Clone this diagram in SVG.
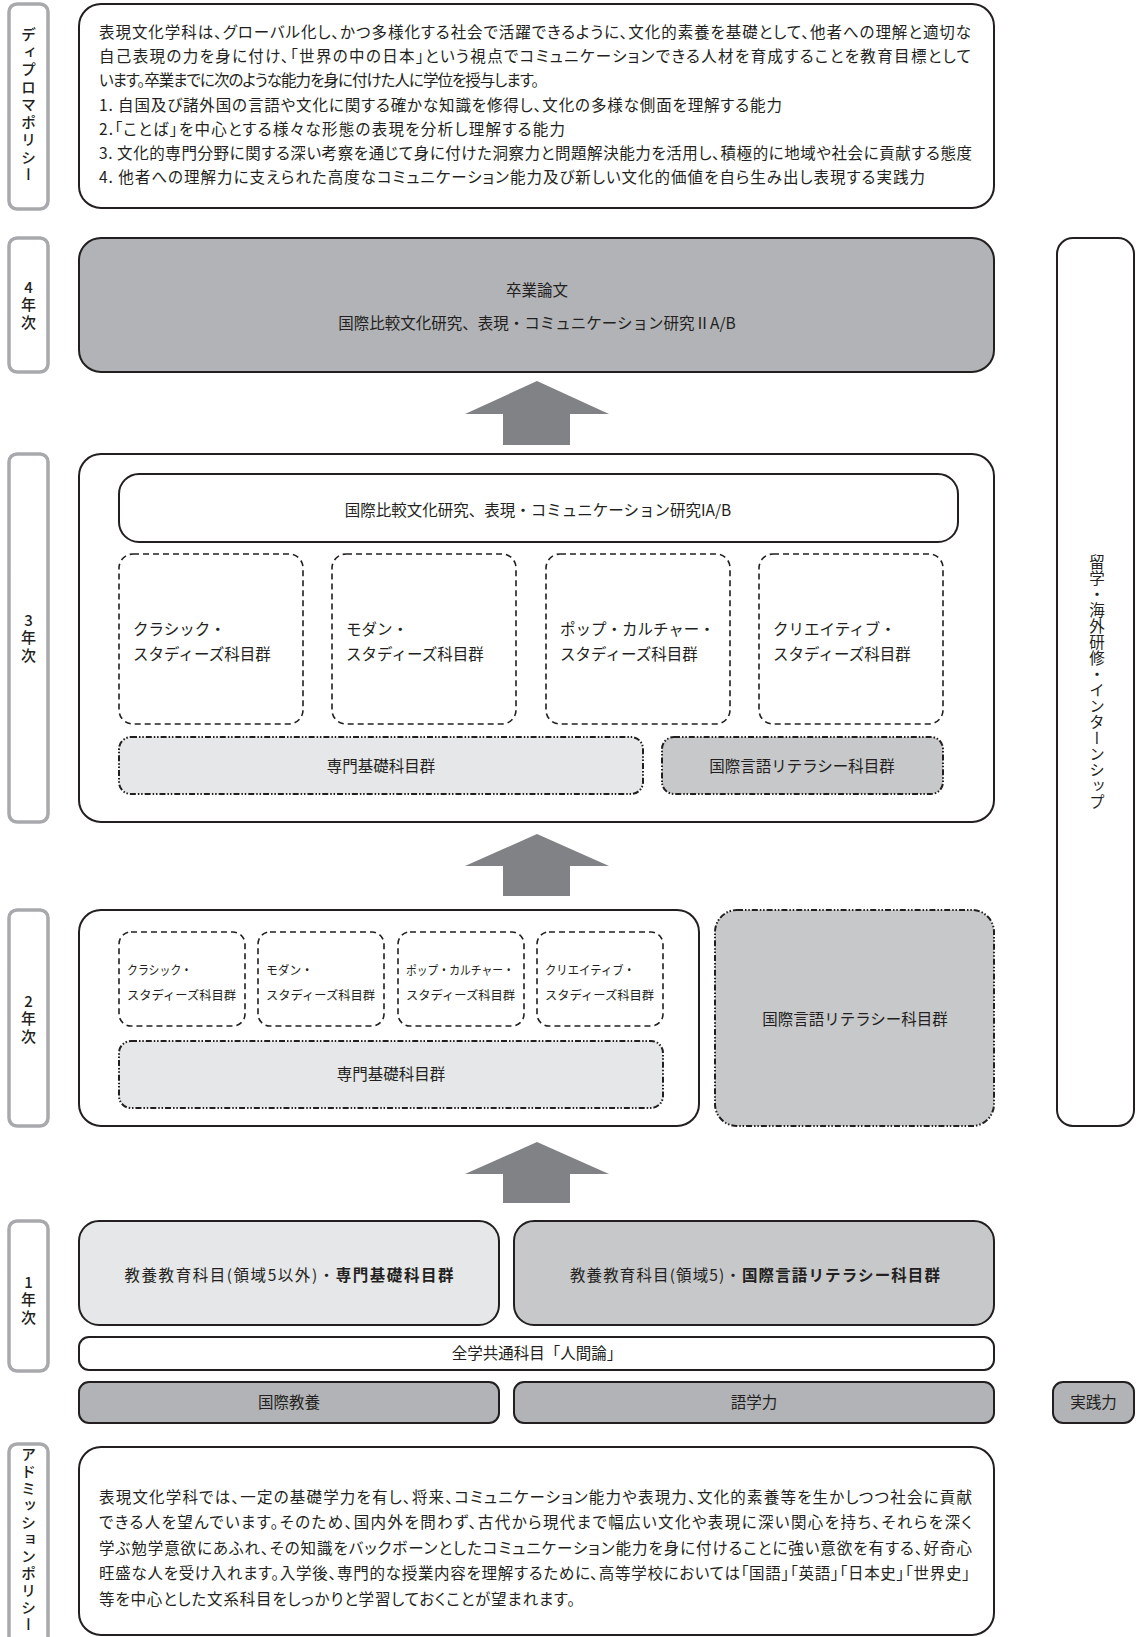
<svg xmlns="http://www.w3.org/2000/svg" width="1136" height="1637" viewBox="0 0 1136 1637">
<style>
text { font-family: "Noto Sans CJK JP", "Noto Sans", sans-serif; fill: #231f20; font-size: 15.5px; }
.p { font-feature-settings: "palt"; }
.c { text-anchor: middle; }
.b { font-weight: 700; }
.small { font-size: 12.5px; }
.lbl { fill: #fff; stroke: #a7a9ac; stroke-width: 3.5; }
.lt { font-size: 15px; font-weight: 500; text-anchor: middle; }
.vt { writing-mode: vertical-rl; text-anchor: middle; }
.up { text-orientation: upright; letter-spacing: 2.5px; }
.box { stroke: #231f20; stroke-width: 2; }
.white { fill: #fff; }
.g1 { fill: #e6e7e8; }
.g2 { fill: #c7c8ca; }
.g3 { fill: #b1b3b6; }
.dash { fill: #fff; stroke: #231f20; stroke-width: 1.6; stroke-dasharray: 6 4; }
.dd { stroke: #231f20; stroke-width: 2; stroke-dasharray: 6 2 1.5 1.8 1.5 2; }
.arrow { fill: #808285; }
</style>

<!-- side labels -->
<g id="label-diploma">
  <rect class="lbl" x="9" y="4" width="39" height="205" rx="8"/>
  <text class="lt vt" x="28.5" y="106" style="letter-spacing:2.5px">ディプロマポリシー</text>
</g>
<g id="label-y4">
  <rect class="lbl" x="9" y="238" width="39" height="134" rx="8"/>
  <text class="lt vt up" x="28.5" y="306">4年次</text>
</g>
<g id="label-y3">
  <rect class="lbl" x="9" y="454" width="39" height="368" rx="8"/>
  <text class="lt vt up" x="28.5" y="639">3年次</text>
</g>
<g id="label-y2">
  <rect class="lbl" x="9" y="910" width="39" height="216" rx="8"/>
  <text class="lt vt up" x="28.5" y="1020">2年次</text>
</g>
<g id="label-y1">
  <rect class="lbl" x="9" y="1221" width="39" height="150" rx="8"/>
  <text class="lt vt up" x="28.5" y="1301">1年次</text>
</g>
<g id="label-admission">
  <rect class="lbl" x="9" y="1444" width="39" height="220" rx="8"/>
  <text class="lt vt" x="28.5" y="1540" style="letter-spacing:2px">アドミッションポリシー</text>
</g>

<!-- diploma policy -->
<g id="diploma">
  <rect class="box white" x="79" y="4" width="915" height="204" rx="22"/>
  <text class="p" x="99" y="37.5" textLength="872">表現文化学科は、グローバル化し、かつ多様化する社会で活躍できるように、文化的素養を基礎として、他者への理解と適切な</text>
  <text class="p" x="99" y="61.5" textLength="872">自己表現の力を身に付け、「世界の中の日本」という視点でコミュニケーションできる人材を育成することを教育目標として</text>
  <text class="p" x="99" y="86" textLength="440">います。卒業までに次のような能力を身に付けた人に学位を授与します。</text>
  <text class="p" x="99" y="110.5" textLength="683">1. 自国及び諸外国の言語や文化に関する確かな知識を修得し、文化の多様な側面を理解する能力</text>
  <text class="p" x="99" y="134.5" textLength="466">2.「ことば」を中心とする様々な形態の表現を分析し理解する能力</text>
  <text class="p" x="99" y="158.5" textLength="873">3. 文化的専門分野に関する深い考察を通じて身に付けた洞察力と問題解決能力を活用し、積極的に地域や社会に貢献する態度</text>
  <text class="p" x="99" y="183" textLength="826">4. 他者への理解力に支えられた高度なコミュニケーション能力及び新しい文化的価値を自ら生み出し表現する実践力</text>
</g>

<!-- year 4 -->
<g id="year4">
  <rect class="box g3" x="79" y="238" width="915" height="134" rx="22"/>
  <text class="c" x="537" y="296">卒業論文</text>
  <text class="c" x="537" y="328.5">国際比較文化研究、表現・コミュニケーション研究ⅡA/B</text>
</g>

<!-- year 3 -->
<g id="year3">
  <rect class="box white" x="79" y="454" width="915" height="368" rx="22"/>
  <g id="y3-research">
    <rect class="box white" x="119" y="474" width="839" height="68" rx="20"/>
    <text class="c" x="538" y="515.5">国際比較文化研究、表現・コミュニケーション研究IA/B</text>
  </g>
  <g id="y3-classic">
    <rect class="dash" x="119" y="554" width="184" height="170" rx="14"/>
    <text x="133" y="634.5">クラシック・</text>
    <text x="133" y="659.5">スタディーズ科目群</text>
  </g>
  <g id="y3-modern">
    <rect class="dash" x="332" y="554" width="184" height="170" rx="14"/>
    <text x="346" y="634.5">モダン・</text>
    <text x="346" y="659.5">スタディーズ科目群</text>
  </g>
  <g id="y3-pop">
    <rect class="dash" x="546" y="554" width="184" height="170" rx="14"/>
    <text x="560" y="634.5">ポップ・カルチャー・</text>
    <text x="560" y="659.5">スタディーズ科目群</text>
  </g>
  <g id="y3-creative">
    <rect class="dash" x="759" y="554" width="184" height="170" rx="14"/>
    <text x="773" y="634.5">クリエイティブ・</text>
    <text x="773" y="659.5">スタディーズ科目群</text>
  </g>
  <g id="y3-senmon">
    <rect class="dd g1" x="119" y="737" width="524" height="57" rx="12"/>
    <text class="c" x="381" y="771.5">専門基礎科目群</text>
  </g>
  <g id="y3-literacy">
    <rect class="dd g2" x="662" y="737" width="281" height="57" rx="12"/>
    <text class="c" x="802" y="771.5">国際言語リテラシー科目群</text>
  </g>
</g>

<!-- year 2 -->
<g id="year2">
  <rect class="box white" x="79" y="910" width="620" height="216" rx="22"/>
  <g id="y2-classic">
    <rect class="dash" x="119" y="932" width="126" height="94" rx="12"/>
    <text class="small" x="127" y="974.5" textLength="65" lengthAdjust="spacingAndGlyphs">クラシック・</text>
    <text class="small" x="127" y="999.5" textLength="109" lengthAdjust="spacingAndGlyphs">スタディーズ科目群</text>
  </g>
  <g id="y2-modern">
    <rect class="dash" x="258" y="932" width="126" height="94" rx="12"/>
    <text class="small" x="266" y="974.5" textLength="47" lengthAdjust="spacingAndGlyphs">モダン・</text>
    <text class="small" x="266" y="999.5" textLength="109" lengthAdjust="spacingAndGlyphs">スタディーズ科目群</text>
  </g>
  <g id="y2-pop">
    <rect class="dash" x="398" y="932" width="126" height="94" rx="12"/>
    <text class="small" x="406" y="974.5" textLength="108" lengthAdjust="spacingAndGlyphs">ポップ・カルチャー・</text>
    <text class="small" x="406" y="999.5" textLength="109" lengthAdjust="spacingAndGlyphs">スタディーズ科目群</text>
  </g>
  <g id="y2-creative">
    <rect class="dash" x="537" y="932" width="126" height="94" rx="12"/>
    <text class="small" x="545" y="974.5" textLength="90" lengthAdjust="spacingAndGlyphs">クリエイティブ・</text>
    <text class="small" x="545" y="999.5" textLength="109" lengthAdjust="spacingAndGlyphs">スタディーズ科目群</text>
  </g>
  <g id="y2-senmon">
    <rect class="dd g1" x="119" y="1041" width="544" height="67" rx="12"/>
    <text class="c" x="391" y="1080">専門基礎科目群</text>
  </g>
</g>
<g id="y2-literacy">
  <rect class="dd g2" x="715" y="910" width="279" height="216" rx="22"/>
  <text class="c" x="855" y="1025">国際言語リテラシー科目群</text>
</g>

<!-- year 1 -->
<g id="y1-general">
  <rect class="box g1" x="79" y="1221" width="420" height="104" rx="20"/>
  <text class="c" x="289" y="1280.5" textLength="329">教養教育科目(領域5以外)・<tspan class="b">専門基礎科目群</tspan></text>
</g>
<g id="y1-language">
  <rect class="box g2" x="514" y="1221" width="480" height="104" rx="20"/>
  <text class="c" x="755" y="1280.5" textLength="370">教養教育科目(領域5)・<tspan class="b">国際言語リテラシー科目群</tspan></text>
</g>
<g id="ningenron">
  <rect class="box white" x="79" y="1337" width="915" height="33" rx="10"/>
  <text class="c" x="537" y="1359">全学共通科目「人間論」</text>
</g>
<g id="kokusai-kyoyo">
  <rect class="box g3" x="79" y="1382" width="420" height="41" rx="10"/>
  <text class="c" x="289" y="1408">国際教養</text>
</g>
<g id="gogakuryoku">
  <rect class="box g3" x="514" y="1382" width="480" height="41" rx="10"/>
  <text class="c" x="754" y="1408">語学力</text>
</g>
<g id="jissenryoku">
  <rect class="box g3" x="1053" y="1382" width="81" height="41" rx="10"/>
  <text class="c" x="1093.5" y="1408">実践力</text>
</g>

<!-- right column -->
<g id="ryugaku">
  <rect class="box white" x="1057" y="238" width="77" height="888" rx="16"/>
  <text class="vt" x="1097" y="682" style="letter-spacing:0.5px">留学・海外研修・インターンシップ</text>
</g>

<!-- admission policy -->
<g id="admission">
  <rect class="box white" x="79" y="1447" width="915" height="188" rx="22"/>
  <text class="p" x="99" y="1502.5" textLength="873">表現文化学科では、一定の基礎学力を有し、将来、コミュニケーション能力や表現力、文化的素養等を生かしつつ社会に貢献</text>
  <text class="p" x="99" y="1528" textLength="873">できる人を望んでいます。そのため、国内外を問わず、古代から現代まで幅広い文化や表現に深い関心を持ち、それらを深く</text>
  <text class="p" x="99" y="1553.5" textLength="873">学ぶ勉学意欲にあふれ、その知識をバックボーンとしたコミュニケーション能力を身に付けることに強い意欲を有する、好奇心</text>
  <text class="p" x="99" y="1579" textLength="871">旺盛な人を受け入れます。入学後、専門的な授業内容を理解するために、高等学校においては「国語」「英語」「日本史」「世界史」</text>
  <text class="p" x="99" y="1604.5" textLength="476">等を中心とした文系科目をしっかりと学習しておくことが望まれます。</text>
</g>

<!-- connectors -->
<g id="connectors">
  <polygon class="arrow" points="537,381 609,414 570,414 570,445 503,445 503,414 465,414"/>
  <polygon class="arrow" points="537,834 609,866 570,866 570,896 503,896 503,866 465,866"/>
  <polygon class="arrow" points="537,1142 609,1174 570,1174 570,1203 503,1203 503,1174 465,1174"/>
</g>
</svg>
